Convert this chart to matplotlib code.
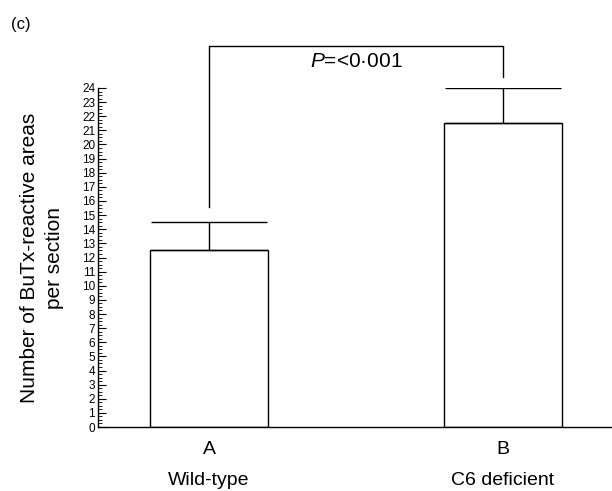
import matplotlib
matplotlib.use("Agg")
import matplotlib.pyplot as plt
from matplotlib.ticker import MultipleLocator

plt.rcParams['font.family'] = ['Liberation Sans', 'DejaVu Sans']
plt.rcParams['mathtext.fontset'] = 'custom'
plt.rcParams['mathtext.it'] = 'Liberation Sans:italic'
plt.rcParams['mathtext.rm'] = 'Liberation Sans'

# data
groups = ['A', 'B']
group_names = ['Wild-type', 'C6 deficient']
means = [12.5, 21.5]
errors = [2.0, 2.5]
y_ticks = list(range(0, 25))
bracket_y = 27.0
bracket_ends = [15.55, 24.8]
p_text = r'$\it{P}$=<0·001'

fig = plt.figure(figsize=(6.12, 4.91), dpi=100)
ax = fig.add_axes([0.160, 0.1303, 0.840, 0.6905])

x = list(range(len(groups)))
ax.bar(x, means, width=0.40, color='white', edgecolor='black', linewidth=1.0, zorder=2)
ax.errorbar(x, means, yerr=[[0, 0], errors], fmt='none', ecolor='black',
            elinewidth=1.0, capsize=41.5, capthick=1.0, zorder=3)

# significance bracket
ax.plot([x[0], x[0], x[1], x[1]],
        [bracket_ends[0], bracket_y, bracket_y, bracket_ends[1]],
        color='black', linewidth=1.0, clip_on=False)
ax.text((x[0] + x[1]) / 2, bracket_y - 0.45, p_text, ha='center', va='top', fontsize=15)

ax.set_xlim(-0.378, 1.371)
ax.set_ylim(0, 24)
ax.set_yticks(y_ticks)
ax.set_yticklabels([str(t) for t in y_ticks], fontsize=8.5)
ax.yaxis.set_minor_locator(MultipleLocator(0.25))
ax.tick_params(axis='y', which='major', direction='in', length=6, width=0.8, pad=2)
ax.tick_params(axis='y', which='minor', direction='in', length=3, width=0.6)

ax.set_xticks(x)
ax.set_xticklabels([f'{g}\n{n}' for g, n in zip(groups, group_names)],
                   fontsize=14, linespacing=2.05)
ax.tick_params(axis='x', length=0, pad=10)

for side in ['top', 'right']:
    ax.spines[side].set_visible(False)
ax.spines['left'].set_linewidth(1.0)
ax.spines['bottom'].set_linewidth(1.0)

ax.set_ylabel('Number of BuTx-reactive areas\nper section', fontsize=15,
              labelpad=13, linespacing=1.4)

fig.text(0.018, 0.965, '(c)', fontsize=12, ha='left', va='top')

plt.savefig('out.png', dpi=100, facecolor='white')
